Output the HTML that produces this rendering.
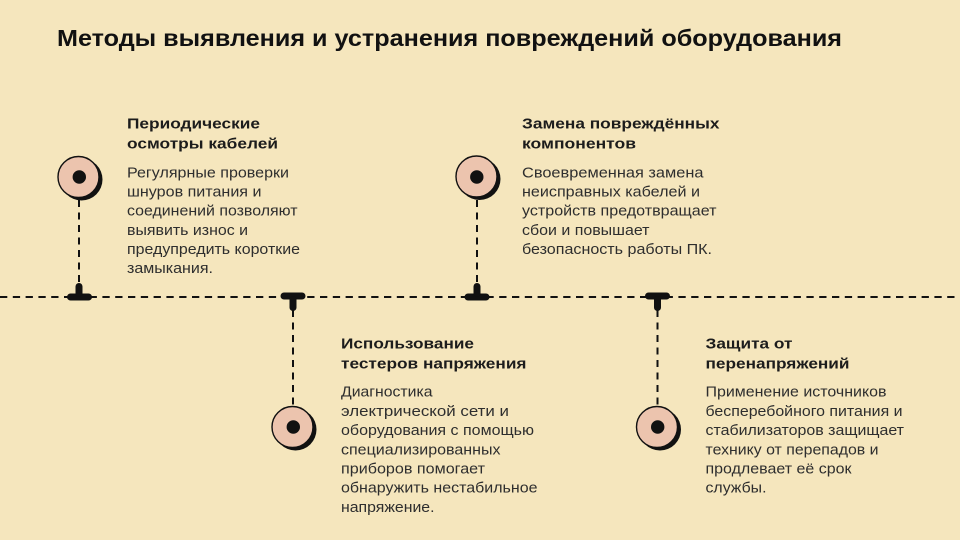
<!DOCTYPE html>
<html>
<head>
<meta charset="utf-8">
<style>
  html, body { margin: 0; padding: 0; background: #f5e6bd; }
  svg { display: block; }
  .t { font-family: "Liberation Sans", "DejaVu Sans", sans-serif; }
  .title { font-size: 23px; font-weight: bold; fill: #111; }
  .h { font-size: 15px; font-weight: bold; fill: #1c1c1c; }
  .b { font-size: 15px; fill: #2e2e2e; }
</style>
</head>
<body>
<svg width="960" height="540" viewBox="0 0 960 540" xmlns="http://www.w3.org/2000/svg">
  <rect x="0" y="0" width="960" height="540" fill="#f5e6bd"/>

  <!-- Title -->
  <text class="t title" x="57" y="46" textLength="785" lengthAdjust="spacingAndGlyphs">Методы выявления и устранения повреждений оборудования</text>

  <!-- Horizontal dashed timeline -->
  <line x1="0" y1="297" x2="960" y2="297" stroke="#111" stroke-width="2" stroke-dasharray="7.3 5.5"/>

  <!-- Vertical connectors -->
  <g stroke="#111" stroke-width="2" stroke-dasharray="7 5.5">
    <line x1="79" y1="200" x2="79" y2="286"/>
    <line x1="477" y1="200" x2="477" y2="286"/>
    <line x1="293" y1="310" x2="293" y2="405"/>
    <line x1="657.5" y1="310" x2="657.5" y2="405"/>
  </g>

  <!-- T junctions (top items: stem up) -->
  <g fill="#111">
    <rect x="67" y="293.5" width="25" height="7" rx="3.5"/>
    <rect x="75.5" y="283" width="7" height="14" rx="3.5"/>
    <rect x="464.5" y="293.5" width="25" height="7" rx="3.5"/>
    <rect x="473.5" y="283" width="7" height="14" rx="3.5"/>
    <!-- bottom items: stem down -->
    <rect x="280.5" y="292.5" width="25" height="7" rx="3.5"/>
    <rect x="289.5" y="296" width="7" height="15" rx="3.5"/>
    <rect x="645" y="292.5" width="25" height="7" rx="3.5"/>
    <rect x="654" y="296" width="7" height="15" rx="3.5"/>
  </g>

  <!-- Circles -->
  <g>
    <circle cx="81.5" cy="179.5" r="21" fill="#111"/>
    <circle cx="78.5" cy="177" r="20.5" fill="#ecc4ae" stroke="#111" stroke-width="1.4"/>
    <circle cx="79.3" cy="177" r="6.7" fill="#111"/>

    <circle cx="479.5" cy="179" r="21" fill="#111"/>
    <circle cx="476.5" cy="176.5" r="20.5" fill="#ecc4ae" stroke="#111" stroke-width="1.4"/>
    <circle cx="476.8" cy="177" r="6.7" fill="#111"/>

    <circle cx="295.5" cy="429.5" r="21" fill="#111"/>
    <circle cx="292.5" cy="427" r="20.5" fill="#ecc4ae" stroke="#111" stroke-width="1.4"/>
    <circle cx="293.3" cy="427" r="6.7" fill="#111"/>

    <circle cx="660" cy="429.5" r="21" fill="#111"/>
    <circle cx="657" cy="427" r="20.5" fill="#ecc4ae" stroke="#111" stroke-width="1.4"/>
    <circle cx="657.7" cy="427" r="6.7" fill="#111"/>
  </g>

  <!-- Item 1 -->
  <text class="t h" x="127" y="128.5" textLength="133" lengthAdjust="spacingAndGlyphs">Периодические</text>
  <text class="t h" x="127" y="148.5" textLength="151" lengthAdjust="spacingAndGlyphs">осмотры кабелей</text>
  <text class="t b" x="127" y="177.5" textLength="162" lengthAdjust="spacingAndGlyphs">Регулярные проверки</text>
  <text class="t b" x="127" y="196.6" textLength="134.5" lengthAdjust="spacingAndGlyphs">шнуров питания и</text>
  <text class="t b" x="127" y="215.7" textLength="170.5" lengthAdjust="spacingAndGlyphs">соединений позволяют</text>
  <text class="t b" x="127" y="234.8" textLength="121" lengthAdjust="spacingAndGlyphs">выявить износ и</text>
  <text class="t b" x="127" y="253.9" textLength="173" lengthAdjust="spacingAndGlyphs">предупредить короткие</text>
  <text class="t b" x="127" y="273" textLength="86" lengthAdjust="spacingAndGlyphs">замыкания.</text>

  <!-- Item 2 -->
  <text class="t h" x="522" y="128.5" textLength="197.5" lengthAdjust="spacingAndGlyphs">Замена повреждённых</text>
  <text class="t h" x="522" y="148.5" textLength="114" lengthAdjust="spacingAndGlyphs">компонентов</text>
  <text class="t b" x="522" y="177.5" textLength="181.5" lengthAdjust="spacingAndGlyphs">Своевременная замена</text>
  <text class="t b" x="522" y="196.6" textLength="178" lengthAdjust="spacingAndGlyphs">неисправных кабелей и</text>
  <text class="t b" x="522" y="215.7" textLength="194.5" lengthAdjust="spacingAndGlyphs">устройств предотвращает</text>
  <text class="t b" x="522" y="234.8" textLength="127.5" lengthAdjust="spacingAndGlyphs">сбои и повышает</text>
  <text class="t b" x="522" y="253.9" textLength="190" lengthAdjust="spacingAndGlyphs">безопасность работы ПК.</text>

  <!-- Item 3 -->
  <text class="t h" x="341" y="348.3" textLength="133" lengthAdjust="spacingAndGlyphs">Использование</text>
  <text class="t h" x="341" y="368.3" textLength="185.5" lengthAdjust="spacingAndGlyphs">тестеров напряжения</text>
  <text class="t b" x="341" y="396.7" textLength="91.5" lengthAdjust="spacingAndGlyphs">Диагностика</text>
  <text class="t b" x="341" y="415.9" textLength="168" lengthAdjust="spacingAndGlyphs">электрической сети и</text>
  <text class="t b" x="341" y="435.1" textLength="193" lengthAdjust="spacingAndGlyphs">оборудования с помощью</text>
  <text class="t b" x="341" y="454.3" textLength="159.5" lengthAdjust="spacingAndGlyphs">специализированных</text>
  <text class="t b" x="341" y="473.5" textLength="144" lengthAdjust="spacingAndGlyphs">приборов помогает</text>
  <text class="t b" x="341" y="492.7" textLength="196.5" lengthAdjust="spacingAndGlyphs">обнаружить нестабильное</text>
  <text class="t b" x="341" y="511.9" textLength="93.5" lengthAdjust="spacingAndGlyphs">напряжение.</text>

  <!-- Item 4 -->
  <text class="t h" x="705.5" y="348.3" textLength="87" lengthAdjust="spacingAndGlyphs">Защита от</text>
  <text class="t h" x="705.5" y="368.3" textLength="144" lengthAdjust="spacingAndGlyphs">перенапряжений</text>
  <text class="t b" x="705.5" y="396.7" textLength="181" lengthAdjust="spacingAndGlyphs">Применение источников</text>
  <text class="t b" x="705.5" y="415.9" textLength="197" lengthAdjust="spacingAndGlyphs">бесперебойного питания и</text>
  <text class="t b" x="705.5" y="435.1" textLength="198.5" lengthAdjust="spacingAndGlyphs">стабилизаторов защищает</text>
  <text class="t b" x="705.5" y="454.3" textLength="173" lengthAdjust="spacingAndGlyphs">технику от перепадов и</text>
  <text class="t b" x="705.5" y="473.5" textLength="146" lengthAdjust="spacingAndGlyphs">продлевает её срок</text>
  <text class="t b" x="705.5" y="492.7" textLength="61" lengthAdjust="spacingAndGlyphs">службы.</text>
</svg>
</body>
</html>
